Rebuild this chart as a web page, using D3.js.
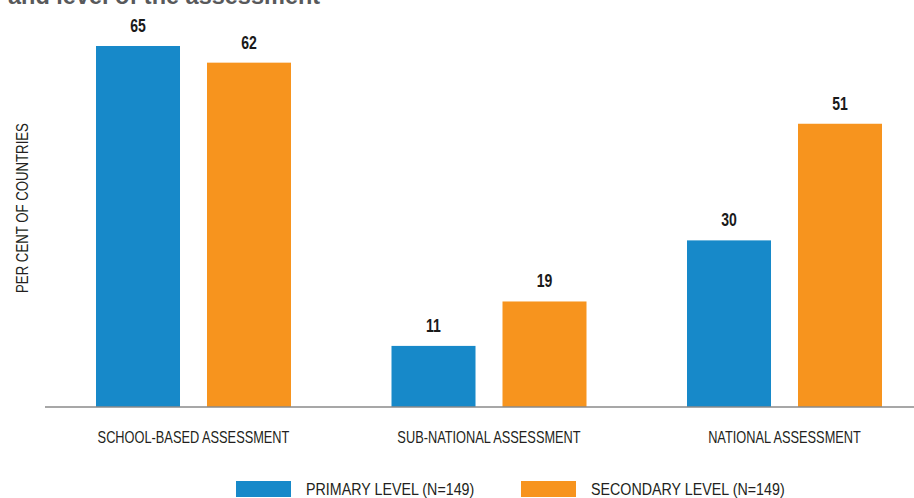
<!DOCTYPE html>
<html>
<head>
<meta charset="utf-8">
<script src="https://cdn.jsdelivr.net/npm/d3@7/dist/d3.min.js"></script>
<style>
  html, body { margin: 0; padding: 0; background: #ffffff; }
  svg { display: block; }
  text { font-family: "Liberation Sans", Arial, sans-serif; }
</style>
</head>
<body>
<svg id="chart" width="914" height="498"></svg>
<script>
const categories = ["SCHOOL-BASED ASSESSMENT", "SUB-NATIONAL ASSESSMENT", "NATIONAL ASSESSMENT"];
const seriesNames = ["PRIMARY LEVEL (N=149)", "SECONDARY LEVEL (N=149)"];
const primaryValues = [65, 11, 30];
const secondaryValues = [62, 19, 51];
const seriesColors = ["#1789c9", "#f7941e"];
const titleText = "and level of the assessment";
const yAxisLabel = "PER CENT OF COUNTRIES";

const data = categories.map((c, i) => ({
  category: c,
  values: [
    { key: seriesNames[0], value: primaryValues[i] },
    { key: seriesNames[1], value: secondaryValues[i] }
  ]
}));

const svg = d3.select("#chart");
const baseY = 407;
const condense = 0.8;   // horizontal squeeze to mimic a condensed typeface

const x0 = d3.scaleBand().domain(categories).range([45.75, 932.25]).padding(0);
const x1 = d3.scaleBand().domain(seriesNames).range([0, x0.bandwidth()])
  .paddingInner(0.2432).paddingOuter(0.4527);
const y = d3.scaleLinear().domain([0, 65]).range([baseY, 46]);
const color = d3.scaleOrdinal().domain(seriesNames).range(seriesColors);

// Title (cut off at top, as in the source)
svg.append("text")
  .attr("x", 8).attr("y", 3.5)
  .attr("font-weight", "bold")
  .attr("font-size", 23.5)
  .attr("fill", "#58595b")
  .text(titleText);

// Bars
const groups = svg.append("g").selectAll("g").data(data).join("g")
  .attr("transform", d => `translate(${x0(d.category)},0)`);

groups.selectAll("rect").data(d => d.values).join("rect")
  .attr("x", d => x1(d.key))
  .attr("y", d => y(d.value))
  .attr("width", x1.bandwidth())
  .attr("height", d => baseY - y(d.value))
  .attr("fill", d => color(d.key));

groups.selectAll("text.val").data(d => d.values).join("text")
  .attr("class", "val")
  .attr("transform", d => `translate(${x1(d.key) + x1.bandwidth() / 2},${y(d.value) - 14}) scale(0.76,1)`)
  .attr("text-anchor", "middle")
  .attr("font-weight", "bold")
  .attr("font-size", 18.5)
  .attr("fill", "#1a1a1a")
  .text(d => d.value);

// X axis
const xAxis = svg.append("g")
  .attr("transform", `translate(0,${baseY})`)
  .call(d3.axisBottom(x0).tickSize(0));
xAxis.attr("font-family", null);
xAxis.select(".domain").attr("stroke", "#8a8a8a").attr("stroke-width", 1.5)
  .attr("d", "M45,0H914");
xAxis.selectAll(".tick text")
  .attr("y", 36).attr("dy", 0)
  .attr("transform", `scale(${condense},1)`)
  .attr("font-size", 16)
  .attr("fill", "#231f20");

// Y axis label
svg.append("text")
  .attr("transform", `translate(27.5,208) rotate(-90) scale(${condense},1)`)
  .attr("text-anchor", "middle")
  .attr("font-size", 16.5)
  .attr("fill", "#231f20")
  .text(yAxisLabel);

// Legend
const legendX = [236, 521];
const legend = svg.append("g").selectAll("g").data(seriesNames).join("g")
  .attr("transform", (d, i) => `translate(${legendX[i]},481)`);
legend.append("rect")
  .attr("width", 55).attr("height", 16)
  .attr("fill", d => color(d));
legend.append("text")
  .attr("transform", "translate(70,14) scale(0.84,1)")
  .attr("font-size", 17)
  .attr("fill", "#231f20")
  .text(d => d);
</script>
</body>
</html>
